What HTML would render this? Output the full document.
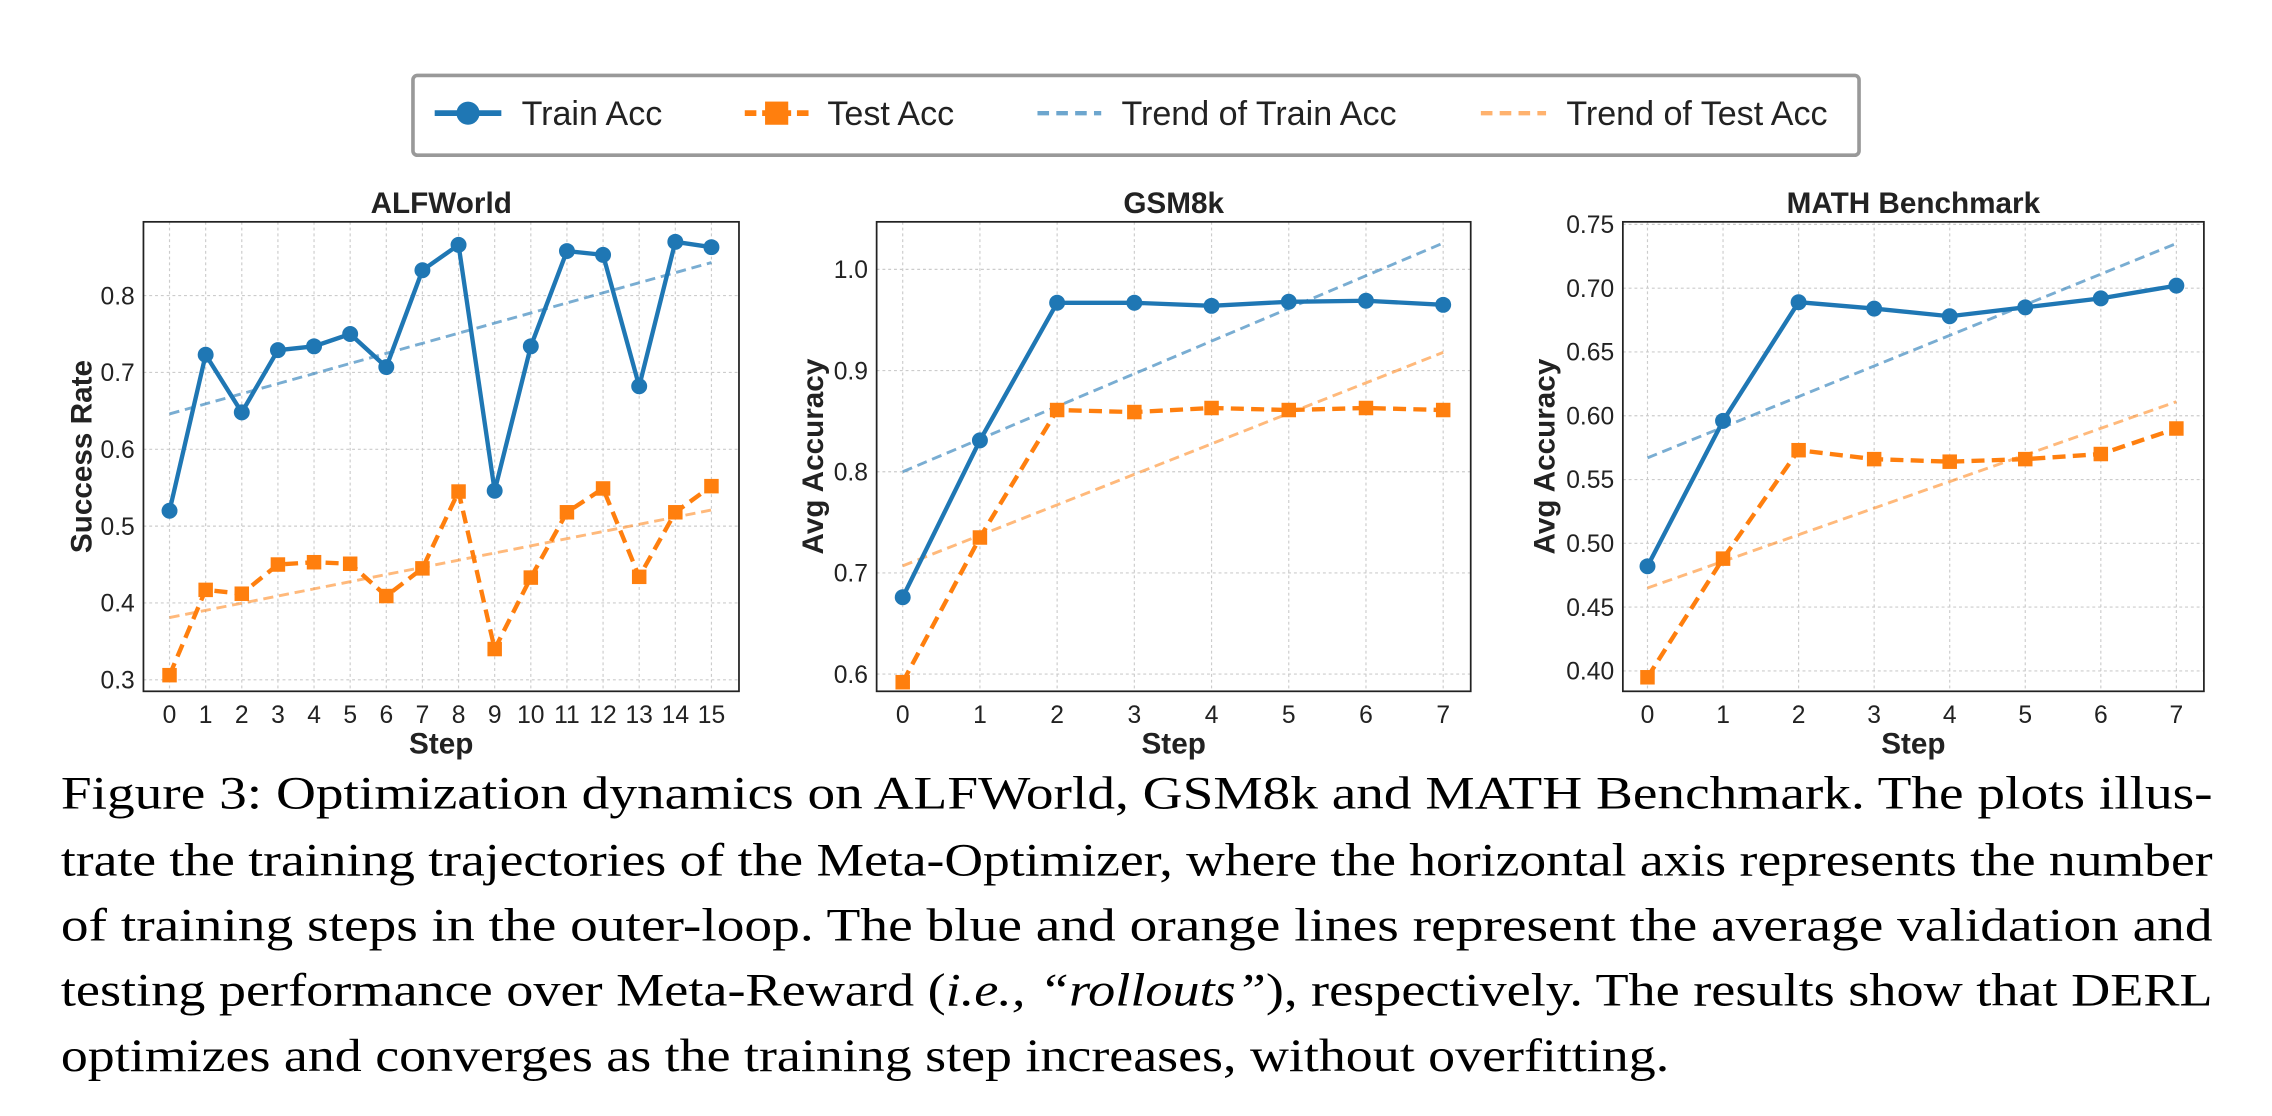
<!DOCTYPE html>
<html><head><meta charset="utf-8"><style>
html,body{margin:0;padding:0;background:#fff;}
svg{display:block;}
</style></head><body>
<svg id="fig" width="2272" height="1116" viewBox="0 0 1568 770" xmlns="http://www.w3.org/2000/svg">
<rect width="1568" height="770" fill="#fff"/>
<g>
<rect x="285" y="52" width="998" height="55" rx="3" fill="#fff" stroke="#999" stroke-width="2.5"/>
<g><line x1="300" y1="78" x2="346" y2="78" stroke="#1f77b4" stroke-width="4"/><circle cx="323" cy="78" r="8" fill="#1f77b4"/><text x="360" y="86" font-family="Liberation Sans, sans-serif" font-size="23.5" fill="#222">Train Acc</text></g>
<g><line x1="514" y1="78" x2="558" y2="78" stroke="#ff7f0e" stroke-width="4" stroke-dasharray="8,4"/><rect x="528" y="70" width="16" height="16" fill="#ff7f0e"/><text x="571" y="86" font-family="Liberation Sans, sans-serif" font-size="23.5" fill="#222">Test Acc</text></g>
<g><line x1="716" y1="78" x2="760" y2="78" stroke="#1f77b4" stroke-opacity="0.65" stroke-width="3" stroke-dasharray="8,5"/><text x="774" y="86" font-family="Liberation Sans, sans-serif" font-size="23.5" fill="#222">Trend of Train Acc</text></g>
<g><line x1="1022" y1="78" x2="1067" y2="78" stroke="#ff7f0e" stroke-opacity="0.6" stroke-width="3" stroke-dasharray="8,5"/><text x="1081" y="86" font-family="Liberation Sans, sans-serif" font-size="23.5" fill="#222">Trend of Test Acc</text></g>
</g>
<g id="charts"></g>
<g font-family="Liberation Serif, serif" font-size="32" fill="#000">
<text x="42" y="558" textLength="1485" lengthAdjust="spacingAndGlyphs">Figure 3: Optimization dynamics on ALFWorld, GSM8k and MATH Benchmark. The plots illus-</text>
<text x="42" y="604" textLength="1485" lengthAdjust="spacingAndGlyphs">trate the training trajectories of the Meta-Optimizer, where the horizontal axis represents the number</text>
<text x="42" y="649" textLength="1485" lengthAdjust="spacingAndGlyphs">of training steps in the outer-loop. The blue and orange lines represent the average validation and</text>
<text x="42" y="694" textLength="1485" lengthAdjust="spacingAndGlyphs">testing performance over Meta-Reward (<tspan font-style="italic">i.e., “rollouts”</tspan>), respectively. The results show that DERL</text>
<text x="42" y="739" textLength="1110" lengthAdjust="spacingAndGlyphs">optimizes and converges as the training step increases, without overfitting.</text>
</g>
</svg>
<script>
const alfTrain=[0.52,0.723,0.648,0.729,0.734,0.75,0.707,0.833,0.866,0.546,0.734,0.858,0.853,0.682,0.87,0.863];
const alfTest=[0.306,0.417,0.412,0.45,0.453,0.451,0.409,0.445,0.545,0.34,0.433,0.518,0.549,0.434,0.518,0.552];
const alfTrend=[0.646,0.843];
const alfTrendTest=[0.381,0.521];
const alfTicks=[0.3,0.4,0.5,0.6,0.7,0.8];
const gsmTrain=[0.676,0.831,0.967,0.967,0.964,0.968,0.969,0.965];
const gsmTest=[0.592,0.735,0.861,0.859,0.863,0.861,0.863,0.861];
const gsmTrend=[0.8,1.026];
const gsmTrendTest=[0.707,0.918];
const gsmTicks=[0.6,0.7,0.8,0.9,1.0];
const mathTrain=[0.482,0.596,0.689,0.684,0.678,0.685,0.692,0.702];
const mathTest=[0.395,0.488,0.573,0.566,0.564,0.566,0.570,0.590];
const mathTrend=[0.567,0.735];
const mathTrendTest=[0.465,0.611];
const mathTicks=[0.40,0.45,0.50,0.55,0.60,0.65,0.70,0.75];

const NS="http://www.w3.org/2000/svg";
const root=document.getElementById('charts');
function mk(tag,attrs,parent){const e=document.createElementNS(NS,tag);for(const k in attrs)e.setAttribute(k,attrs[k]);parent.appendChild(e);return e;}
function chart(o){
  const g=mk('g',{},root);
  
  
  const n=o.train.length;
  const xs=i=>o.x0+(o.xN-o.x0)*i/(n-1);
  const ys=v=>o.top+(o.ymax-v)/(o.ymax-o.ymin)*(o.bot-o.top);
  for(const t of o.ticks){const y=ys(t);const l=mk('line',{x1:o.L,x2:o.R,y1:y,y2:y,stroke:'#ccc','stroke-width':0.8,'stroke-dasharray':'2,2'},g);
    const tx=mk('text',{x:o.L-6,y:y+6,'text-anchor':'end','font-family':'Liberation Sans, sans-serif','font-size':17,fill:'#222'},g);tx.textContent=o.fmt(t);}
  for(let i=0;i<n;i++){const x=xs(i);const l=mk('line',{x1:x,x2:x,y1:o.top,y2:o.bot,stroke:'#ccc','stroke-width':0.8,'stroke-dasharray':'2,2'},g);
    const tx=mk('text',{x:x,y:o.bot+22,'text-anchor':'middle','font-family':'Liberation Sans, sans-serif','font-size':17,fill:'#222'},g);tx.textContent=String(i);}
  const fr=mk('rect',{x:o.L,y:o.top,width:o.R-o.L,height:o.bot-o.top,fill:'none',stroke:'#222','stroke-width':1.2},g);
  
  const t=mk('text',{x:(o.L+o.R)/2,y:o.top-6,'text-anchor':'middle','font-family':'Liberation Sans, sans-serif','font-size':20.5,'font-weight':'bold',fill:'#222'},g);t.textContent=o.title;
  
  const xl=mk('text',{x:(o.L+o.R)/2,y:o.bot+43,'text-anchor':'middle','font-family':'Liberation Sans, sans-serif','font-size':20.5,'font-weight':'bold',fill:'#222'},g);xl.textContent='Step';
  
  const cy=(o.top+o.bot)/2;
  const yl=mk('text',{x:o.ylx,y:cy,'text-anchor':'middle','font-family':'Liberation Sans, sans-serif','font-size':20.5,'font-weight':'bold',fill:'#222',transform:`rotate(-90 ${o.ylx} ${cy})`},g);yl.textContent=o.ylabel;
  
  const tr=mk('line',{x1:xs(0),y1:ys(o.trend[0]),x2:xs(n-1),y2:ys(o.trend[1]),stroke:'#1f77b4','stroke-opacity':0.6,'stroke-width':2,'stroke-dasharray':'7,4'},g);
  
  const tt=mk('line',{x1:xs(0),y1:ys(o.trendTest[0]),x2:xs(n-1),y2:ys(o.trendTest[1]),stroke:'#ff7f0e','stroke-opacity':0.55,'stroke-width':2,'stroke-dasharray':'7,4'},g);
  
  const pt=o.test.map((v,i)=>xs(i)+','+ys(v)).join(' ');
  const pl2=mk('polyline',{points:pt,fill:'none',stroke:'#ff7f0e','stroke-width':3,'stroke-dasharray':'9,5'},g);
  
  o.test.forEach((v,i)=>{const r=mk('rect',{x:xs(i)-5,y:ys(v)-5,width:10,height:10,fill:'#ff7f0e'},g);});
  const p=o.train.map((v,i)=>xs(i)+','+ys(v)).join(' ');
  const pl=mk('polyline',{points:p,fill:'none',stroke:'#1f77b4','stroke-width':3},g);
  
  o.train.forEach((v,i)=>{const c=mk('circle',{cx:xs(i),cy:ys(v),r:5.5,fill:'#1f77b4'},g);});
}
chart({name:'alfworld-chart',title:'ALFWorld',ylabel:'Success Rate',L:99,R:510,top:153,bot:477,x0:117,xN:491,ymin:0.285,ymax:0.896,ticks:alfTicks,fmt:v=>v.toFixed(1),train:alfTrain,test:alfTest,trend:alfTrend,trendTest:alfTrendTest,ylx:63});
chart({name:'gsm8k-chart',title:'GSM8k',ylabel:'Avg Accuracy',L:605,R:1015,top:153,bot:477,x0:623,xN:996,ymin:0.583,ymax:1.047,ticks:gsmTicks,fmt:v=>v.toFixed(1),train:gsmTrain,test:gsmTest,trend:gsmTrend,trendTest:gsmTrendTest,ylx:568});
chart({name:'math-chart',title:'MATH Benchmark',ylabel:'Avg Accuracy',L:1120,R:1521,top:153,bot:477,x0:1137,xN:1502,ymin:0.384,ymax:0.752,ticks:mathTicks,fmt:v=>v.toFixed(2),train:mathTrain,test:mathTest,trend:mathTrend,trendTest:mathTrendTest,ylx:1073});
</script>
</body></html>
